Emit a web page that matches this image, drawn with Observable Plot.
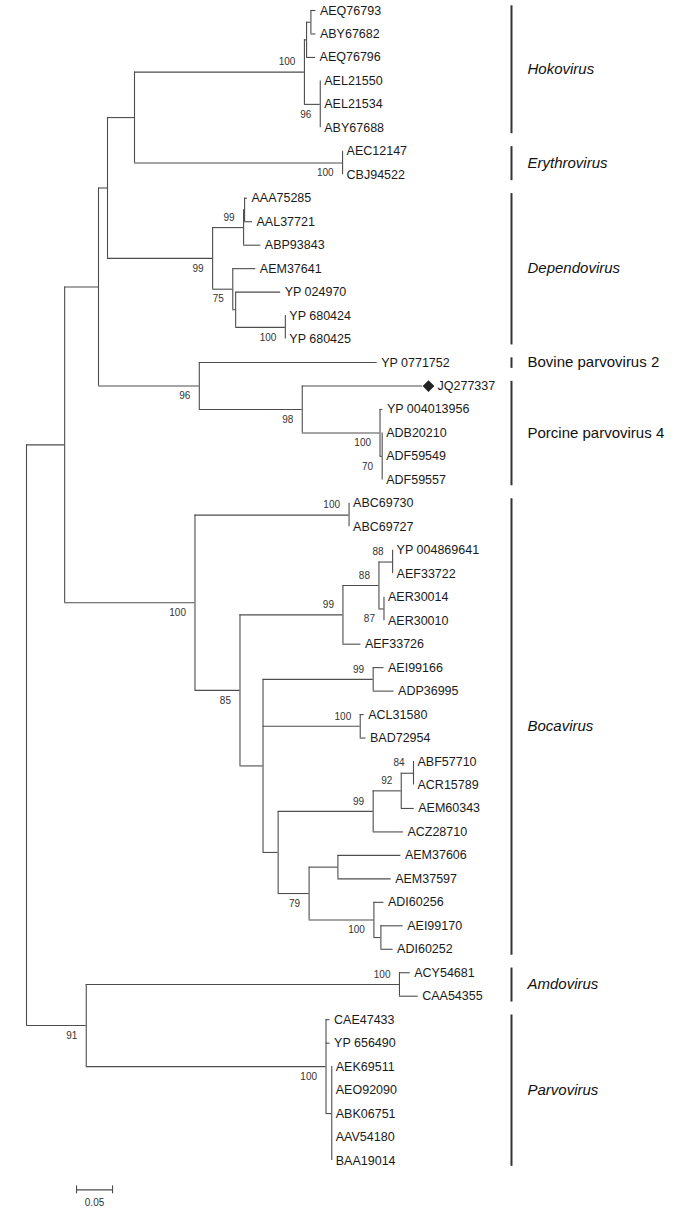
<!DOCTYPE html>
<html><head><meta charset="utf-8">
<script src="https://cdn.jsdelivr.net/npm/d3@7"></script>
<script src="https://cdn.jsdelivr.net/npm/@observablehq/plot@0.6"></script>
<style>html,body{margin:0;padding:0;background:#fff;} #chart svg{display:block;}</style>
</head><body><div id="chart"></div>
<script>
// ---- Tree data: edges (child, parent, branch length in substitutions/site) ----
const edgeChild = [
 "A","B","C","HE","Hoko","Hk1","Hk1a","AEQ76793","ABY67682","AEQ76796","Hk2","AEL21550","AEL21534","ABY67688",
 "Ery","AEC12147","CBJ94522",
 "Dep","Dp1","Dp1a","AAA75285","AAL37721","ABP93843","Dp2","AEM37641","Dp2a","YP 024970","Dp2b","YP 680424","YP 680425",
 "BP","YP 0771752","Por","JQ277337","Po1","YP 004013956","Po2","ADB20210","ADF59549","ADF59557",
 "Boca","ABCn","ABC69730","ABC69727","Bo85","Bo99","Bo88","Bo88b","YP 004869641","AEF33722","Bo87","AER30014","AER30010","AEF33726",
 "L","Ae","AEI99166","ADP36995","Acl","ACL31580","BAD72954","M","N","N92","N84","ABF57710","ACR15789","AEM60343","ACZ28710",
 "O","Aem","AEM37606","AEM37597","Adi","ADI60256","P","AEI99170","ADI60252",
 "N91","Amd","ACY54681","CAA54355","Par","CAE47433","YP 656490","Pa2","AEK69511","AEO92090","ABK06751","AAV54180","BAA19014"
];
const edgeParent = [
 "root","A","B","C","HE","Hoko","Hk1","Hk1a","Hk1a","Hk1","Hoko","Hk2","Hk2","Hk2",
 "HE","Ery","Ery",
 "C","Dep","Dp1","Dp1a","Dp1a","Dp1","Dep","Dp2","Dp2","Dp2a","Dp2a","Dp2b","Dp2b",
 "B","BP","BP","Por","Por","Po1","Po1","Po2","Po2","Po2",
 "A","Boca","ABCn","ABCn","Boca","Bo85","Bo99","Bo88","Bo88b","Bo88b","Bo88","Bo87","Bo87","Bo99",
 "Bo85","L","Ae","Ae","L","Acl","Acl","L","M","N","N92","N84","N84","N92","N",
 "M","O","Aem","Aem","O","Adi","Adi","P","P",
 "root","N91","Amd","Amd","N91","Par","Par","Par","Pa2","Pa2","Pa2","Pa2","Pa2"
];
const edgeLength = [
 0.053,0.047,0.0125,0.0375,0.236,0.003,0.006,0.007,0.007,0.0125,0.022,0,0,0,
 0.289,0,0,
 0.146,0.043,0.0014,0.004,0.011,0.024,0.028,0.032,0.004,0.0625,0.069,0,0,
 0.140,0.247,0.143,0.167,0.108,0.004,0.003,0,0,0,
 0.181,0.214,0,0,0.0625,0.143,0.05,0.019,0,0,0.007,0,0,0.025,
 0.032,0.153,0.015,0.029,0.135,0.0056,0.008,0.021,0.132,0.039,0.017,0,0,0.018,0.042,
 0.043,0.040,0.0875,0.074,0.090,0.014,0.0097,0.031,0.017,
 0.083,0.435,0.015,0.026,0.333,0.0056,0.0056,0.008,0,0,0,0,0
];
// ---- Bootstrap support values ----
const supportNode  = ["Hoko","Hk2","Ery","Dep","Dp1","Dp2","Dp2b","BP","Por","Po1","Po2","Boca","ABCn","Bo85","Bo99","Bo88","Bo88b","Bo87","Ae","Acl","N","N92","N84","O","Adi","N91","Amd","Par"];
const supportValue = [100,96,100,99,99,75,100,96,98,100,70,100,100,85,99,88,88,87,99,100,99,92,84,79,100,91,100,100];
// ---- Clades ----
const cladeNames  = ["Hokovirus","Erythrovirus","Dependovirus","Bovine parvovirus 2","Porcine parvovirus 4","Bocavirus","Amdovirus","Parvovirus"];
const cladeFirst  = ["AEQ76793","AEC12147","AAA75285","YP 0771752","JQ277337","ABC69730","ACY54681","CAE47433"];
const cladeLast   = ["ABY67688","CBJ94522","YP 680425","YP 0771752","ADF59557","ADI60252","CAA54355","BAA19014"];
const cladeItalic = [true,true,true,false,false,true,true,true];
const markedLeaves = ["JQ277337"];
const scaleBarLength = 0.05;
const scaleBarLabel = "0.05";

// ---- Layout ----
const children = new Map(), len = new Map(), parentOf = new Map();
edgeChild.forEach((c, i) => {
  const p = edgeParent[i];
  if (!children.has(p)) children.set(p, []);
  children.get(p).push(c);
  len.set(c, edgeLength[i]);
  parentOf.set(c, p);
});
const pos = new Map();
const leaves = [];
let leafIndex = 0;
function layout(n, depth) {
  const kids = children.get(n) || [];
  if (!kids.length) { const y = leafIndex++; pos.set(n, {x: depth, y}); leaves.push(n); return y; }
  const ys = kids.map(k => layout(k, depth + len.get(k)));
  const y = (ys[0] + ys[ys.length - 1]) / 2;
  pos.set(n, {x: depth, y});
  return y;
}
layout("root", 0);

const horiz = edgeChild.map(c => ({x1: pos.get(parentOf.get(c)).x, x2: pos.get(c).x, y: pos.get(c).y}));
const vert = [...children.entries()].map(([n, kids]) => ({x: pos.get(n).x, y1: pos.get(kids[0]).y, y2: pos.get(kids[kids.length - 1]).y}));
const supports = supportNode.map((n, i) => ({x: pos.get(n).x, y: pos.get(n).y, label: String(supportValue[i]), above: pos.get(n).y < pos.get(parentOf.get(n)).y}));
const leafData = leaves.map(n => ({name: n, x: pos.get(n).x, y: pos.get(n).y, marked: markedLeaves.includes(n)}));

const barX = 0.6736;
const clades = cladeNames.map((name, i) => {
  const a = pos.get(cladeFirst[i]).y, b = pos.get(cladeLast[i]).y;
  return {name, y1: a - 0.2, y2: b + 0.25, ym: (a + b) / 2, italic: cladeItalic[i], x: barX};
});
const sbX = 0.0695, sbRow = leaves.length + 0.25;

const font = "Liberation Sans, Arial, Helvetica, sans-serif";
const lineColor = "#4d4d4d";
const txt = "#1a1a1a";

const plot = Plot.plot({
  width: 685, height: 1209,
  margin: 0,
  x: {domain: [0, 1], range: [26, 746], axis: null},
  y: {domain: [0, leaves.length - 1], range: [10, 1160], axis: null},
  style: {fontFamily: font, background: "#fff", color: txt},
  marks: [
    Plot.ruleY(horiz, {x1: "x1", x2: "x2", y: "y", stroke: lineColor, strokeWidth: 1.1}),
    Plot.ruleX(vert, {x: "x", y1: "y1", y2: "y2", stroke: lineColor, strokeWidth: 1.1}),
    Plot.text(leafData.filter(d => !d.marked), {x: "x", y: "y", text: "name", dx: 4, textAnchor: "start", fontSize: 12.5, fill: txt}),
    Plot.dot(leafData.filter(d => d.marked), {x: "x", y: "y", dx: 6, symbol: "diamond2", r: 5.3, fill: "#222", stroke: "none"}),
    Plot.text(leafData.filter(d => d.marked), {x: "x", y: "y", text: "name", dx: 15, textAnchor: "start", fontSize: 12.5, fill: txt}),
    Plot.text(supports.filter(d => d.above), {x: "x", y: "y", text: "label", dx: -9, dy: -10, textAnchor: "end", fontSize: 10, fill: "#333"}),
    Plot.text(supports.filter(d => !d.above), {x: "x", y: "y", text: "label", dx: -9, dy: 10, textAnchor: "end", fontSize: 10, fill: "#333"}),
    Plot.ruleX(clades, {x: "x", y1: "y1", y2: "y2", stroke: "#333", strokeWidth: 2}),
    Plot.text(clades.filter(d => d.italic), {x: "x", y: "ym", text: "name", dx: 16, textAnchor: "start", fontSize: 15, fontStyle: "italic", fill: "#111"}),
    Plot.text(clades.filter(d => !d.italic), {x: "x", y: "ym", text: "name", dx: 16, textAnchor: "start", fontSize: 15, fill: "#111"}),
    Plot.ruleY([{x1: sbX, x2: sbX + scaleBarLength, y: sbRow}], {x1: "x1", x2: "x2", y: "y", stroke: lineColor, strokeWidth: 1.1}),
    Plot.ruleX([{x: sbX, y: sbRow}, {x: sbX + scaleBarLength, y: sbRow}], {x: "x", y1: d => d.y - 0.17, y2: d => d.y + 0.17, stroke: lineColor, strokeWidth: 1.1}),
    Plot.text([{x: sbX + scaleBarLength / 2, y: sbRow, t: scaleBarLabel}], {x: "x", y: "y", text: "t", dy: 13, fontSize: 10, fill: "#333"})
  ]
});
document.getElementById("chart").appendChild(plot);
</script>
</body></html>
